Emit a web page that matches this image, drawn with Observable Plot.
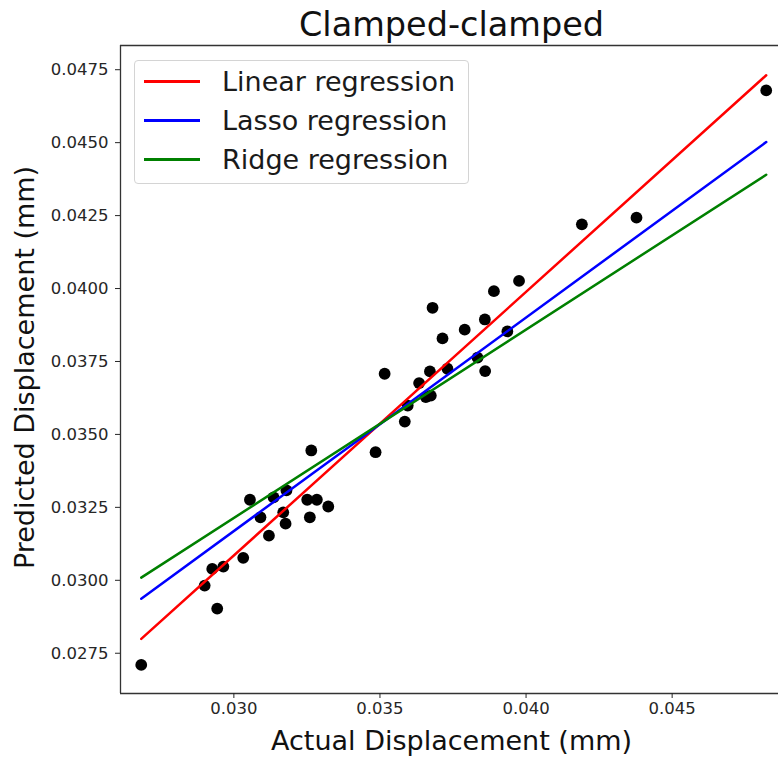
<!DOCTYPE html>
<html>
<head>
<meta charset="utf-8">
<script src="https://cdn.jsdelivr.net/npm/d3@7"></script>
<script src="https://cdn.jsdelivr.net/npm/@observablehq/plot@0.6"></script>
<style>
  body { margin: 0; background: #fff; font-family: "DejaVu Sans", sans-serif; }
  #wrap { position: relative; width: 778px; height: 760px; overflow: hidden; background: #fff; }
  #legend { position: absolute; left: 134px; top: 60px; width: 335px; height: 124px;
            border: 1px solid #d4d4d4; border-radius: 4px; background: rgba(255,255,255,0.85);
            box-sizing: border-box; }
  .lg-line { position: absolute; left: 9px; width: 56px; height: 2.5px; }
  .lg-text { position: absolute; left: 87px; line-height: 39px; font-size: 27px; color: #1a1a1a; white-space: nowrap; }
</style>
</head>
<body>
<div id="wrap"></div>
<script>
// ---- data ----
const actualDisp = [0.02683, 0.02900, 0.02926, 0.02943, 0.02964, 0.03032, 0.03055, 0.03091, 0.03120, 0.03136,
                    0.03169, 0.03177, 0.03180, 0.03251, 0.03260, 0.03265, 0.03284, 0.03323, 0.03485, 0.03516,
                    0.03585, 0.03595, 0.03634, 0.03657, 0.03671, 0.03674, 0.03680, 0.03714, 0.03731, 0.03790,
                    0.03834, 0.03859, 0.03860, 0.03890, 0.03936, 0.03976, 0.04191, 0.04378, 0.04822];
const predictedDisp = [0.02710, 0.02982, 0.03039, 0.02903, 0.03047, 0.03077, 0.03276, 0.03216, 0.03153, 0.03284,
                       0.03233, 0.03194, 0.03308, 0.03276, 0.03216, 0.03445, 0.03276, 0.03253, 0.03439, 0.03708,
                       0.03544, 0.03599, 0.03676, 0.03628, 0.03716, 0.03633, 0.03934, 0.03829, 0.03725, 0.03859,
                       0.03763, 0.03894, 0.03717, 0.03991, 0.03853, 0.04026, 0.04220, 0.04243, 0.04679];

const fitX = [0.02683, 0.04822];
const linearFit = [0.02799, 0.04731];
const lassoFit = [0.02937, 0.04502];
const ridgeFit = [0.03009, 0.04390];

const seriesNames = ["Linear regression", "Lasso regression", "Ridge regression"];
const seriesColors = ["red", "blue", "green"];

const xTicks = [0.030, 0.035, 0.040, 0.045];
const yTicks = [0.0275, 0.0300, 0.0325, 0.0350, 0.0375, 0.0400, 0.0425, 0.0450, 0.0475];
const xDomain = [0.02612, 0.04864];
const yDomain = [0.02612, 0.04833];

const titleText = "Clamped-clamped";
const xLabel = "Actual Displacement (mm)";
const yLabel = "Predicted Displacement (mm)";

// ---- build tables ----
const points = actualDisp.map((a, i) => ({ x: a, y: predictedDisp[i] }));
const fits = [linearFit, lassoFit, ridgeFit];
const lineRows = [];
fits.forEach((f, s) => fitX.forEach((x, i) => lineRows.push({ x, y: f[i], series: seriesNames[s] })));

const axisColor = "#333";
const chart = Plot.plot({
  width: 778,
  height: 760,
  marginLeft: 120,
  marginRight: 0,
  marginTop: 45,
  marginBottom: 67,
  style: { fontFamily: "DejaVu Sans, sans-serif", background: "white", overflow: "visible" },
  x: { domain: xDomain },
  y: { domain: yDomain },
  color: { domain: seriesNames, range: seriesColors },
  marks: [
    Plot.dot(points, { x: "x", y: "y", r: 5.9, fill: "black", stroke: "none" }),
    Plot.line(lineRows, { x: "x", y: "y", z: "series", stroke: "series", strokeWidth: 2.5 }),
    Plot.ruleY([yDomain[0], yDomain[1]], { stroke: axisColor, strokeWidth: 1.3 }),
    Plot.ruleX([xDomain[0]], { stroke: axisColor, strokeWidth: 1.3 }),
    Plot.axisX({ ticks: xTicks, tickFormat: d3.format(".3f"), tickSize: 5, tickPadding: 4,
                 fontSize: 16.5, color: "#262626", label: null }),
    Plot.axisY({ ticks: yTicks, tickFormat: d3.format(".4f"), tickSize: 5, tickPadding: 7,
                 fontSize: 16.5, color: "#262626", label: null }),
    Plot.text([titleText], { text: d => d, frameAnchor: "top", textAnchor: "middle", lineAnchor: "middle",
                             dx: 2, dy: -20, fontSize: 33.5, fill: "#111" }),
    Plot.text([xLabel], { text: d => d, frameAnchor: "bottom", textAnchor: "middle", lineAnchor: "middle",
                          dx: 2, dy: 48, fontSize: 27, fill: "#111" }),
    Plot.text([yLabel], { text: d => d, frameAnchor: "left", textAnchor: "middle", lineAnchor: "middle",
                          dx: -95, dy: -2, rotate: -90, fontSize: 27, fill: "#111" })
  ]
});

const wrap = document.getElementById("wrap");
wrap.appendChild(chart);

// ---- legend (HTML overlay) ----
const legend = document.createElement("div");
legend.id = "legend";
seriesNames.forEach((name, i) => {
  const ln = document.createElement("div");
  ln.className = "lg-line";
  ln.style.top = (19 + 39 * i) + "px";
  ln.style.background = seriesColors[i];
  legend.appendChild(ln);
  const tx = document.createElement("div");
  tx.className = "lg-text";
  tx.style.top = (0.5 + 39 * i) + "px";
  tx.textContent = name;
  legend.appendChild(tx);
});
wrap.appendChild(legend);
</script>
</body>
</html>
